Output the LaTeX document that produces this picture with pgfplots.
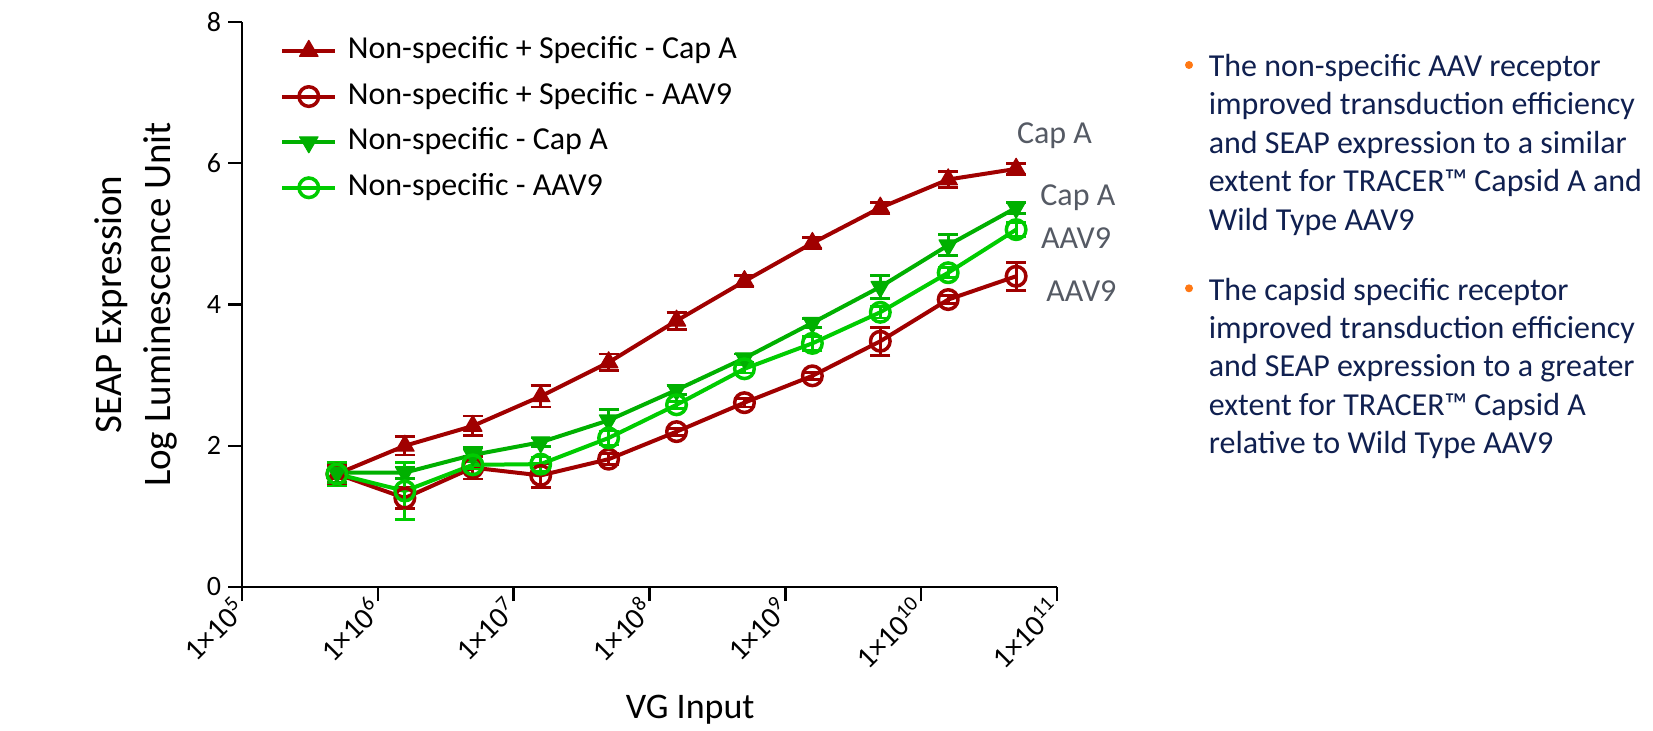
\documentclass[border=0pt]{standalone}
\usepackage{fontspec}
\setmainfont{Carlito}
\usepackage{pgfplots}
\pgfplotsset{compat=1.18}
\usepackage{pgfplotstable}
\definecolor{dred}{RGB}{160,0,0}
\definecolor{tgreen}{RGB}{0,176,0}
\definecolor{cgreen}{RGB}{0,204,0}
\definecolor{anngray}{RGB}{85,90,100}
\definecolor{navy}{RGB}{16,32,80}
\definecolor{borange}{RGB}{255,120,20}

\pgfplotstableread{
x y e
5e5 1.60 0.12
1.581e6 2.00 0.13
5e6 2.28 0.14
1.581e7 2.70 0.15
5e7 3.18 0.12
1.581e8 3.77 0.12
5e8 4.33 0.08
1.581e9 4.87 0.08
5e9 5.37 0.08
1.581e10 5.77 0.11
5e10 5.92 0.08
}\redtri
\pgfplotstableread{
x y e
5e5 1.60 0.14
1.581e6 1.26 0.15
5e6 1.69 0.16
1.581e7 1.58 0.17
5e7 1.81 0.08
1.581e8 2.20 0.05
5e8 2.61 0.06
1.581e9 2.99 0.05
5e9 3.48 0.20
1.581e10 4.07 0.06
5e10 4.40 0.20
}\redcirc
\pgfplotstableread{
x y e
5e5 1.62 0.14
1.581e6 1.62 0.08
5e6 1.87 0.10
1.581e7 2.05 0.06
5e7 2.36 0.15
1.581e8 2.79 0.06
5e8 3.24 0.06
1.581e9 3.74 0.06
5e9 4.25 0.16
1.581e10 4.84 0.15
5e10 5.37 0.08
}\greentri
\pgfplotstableread{
x y e
5e5 1.60 0.17
1.581e6 1.36 0.40
5e6 1.73 0.06
1.581e7 1.74 0.10
5e7 2.11 0.10
1.581e8 2.58 0.05
5e8 3.09 0.06
1.581e9 3.45 0.10
5e9 3.89 0.08
1.581e10 4.45 0.07
5e10 5.06 0.10
}\greencirc

\begin{document}
\begin{tikzpicture}
\useasboundingbox (0,0) rectangle (826.5pt,365pt);
\begin{axis}[
  at={(121pt,71.5pt)}, anchor=south west,
  width=407.5pt, height=282.5pt, scale only axis,
  xmode=log, xmin=1e5, xmax=1e11, ymin=0, ymax=8,
  axis lines*=left,
  axis line style={line width=1.2pt},
  tick style={line width=1.2pt, black},
  tick align=outside,
  major tick length=7pt,
  minor tick num=0,
  xtick={1e5,1e6,1e7,1e8,1e9,1e10,1e11},
  xminorticks=false,
  xticklabels={1×10\textsuperscript{5},1×10\textsuperscript{6},1×10\textsuperscript{7},1×10\textsuperscript{8},1×10\textsuperscript{9},1×10\textsuperscript{10},1×10\textsuperscript{11}},
  xticklabel style={rotate=45, anchor=east, font=\fontsize{15}{17}\selectfont, inner sep=1.5pt},
  ytick={0,2,4,6,8},
  yticklabel style={font=\fontsize{14}{16}\selectfont},
  /pgf/number format/assume math mode=true,
  xlabel={VG Input},
  xlabel style={at={(axis description cs:0.55,-0.232)}, anchor=base, inner sep=0pt, font=\fontsize{18}{21}\selectfont},
  ylabel={SEAP Expression\\Log Luminescence Unit},
  every axis y label/.style={at={(axis description cs:-0.1303,0.5)}, rotate=90, anchor=center, align=center, font=\fontsize{19.5}{24.5}\selectfont},
  clip=false,
  legend cell align=left,
  legend image code/.code={\draw[mark repeat=2,mark phase=2,#1] plot coordinates {(0pt,0pt) (13.25pt,0pt) (26.5pt,0pt)};},
  legend style={at={(0.0465,0.984)}, anchor=north west, draw=none, fill=none, inner sep=0pt, row sep=3.3pt, column sep=3.3pt, font=\fontsize{16}{18}\selectfont, nodes={text height=11.5pt, text depth=4pt}},
  error bars/error bar style={line width=1.4pt},
]
\addplot[dred, line width=2pt, line join=round, mark=triangle*, mark size=5.3pt, mark options={line width=0.6pt, fill=dred},
  error bars/.cd, y dir=both, y explicit, error mark options={rotate=90, mark size=5pt, line width=1.4pt, dred}]
  table[x=x,y=y,y error=e]{\redtri};
\addlegendentry{Non-specific + Specific - Cap A}
\addplot[dred, line width=2pt, line join=round, mark=o, mark size=4.9pt, mark options={line width=1.75pt},
  error bars/.cd, y dir=both, y explicit, error mark options={rotate=90, mark size=5pt, line width=1.4pt, dred}]
  table[x=x,y=y,y error=e]{\redcirc};
\addlegendentry{Non-specific + Specific - AAV9}
\addplot[tgreen, line width=2pt, line join=round, mark=triangle*, mark size=5.3pt, mark options={line width=0.6pt, fill=tgreen, rotate=180},
  error bars/.cd, y dir=both, y explicit, error mark options={rotate=90, mark size=5pt, line width=1.4pt, tgreen}]
  table[x=x,y=y,y error=e]{\greentri};
\addlegendentry{Non-specific - Cap A}
\addplot[cgreen, line width=2pt, line join=round, mark=o, mark size=4.9pt, mark options={line width=1.75pt},
  error bars/.cd, y dir=both, y explicit, error mark options={rotate=90, mark size=5pt, line width=1.4pt, cgreen}]
  table[x=x,y=y,y error=e]{\greencirc};
\addlegendentry{Non-specific - AAV9}
\end{axis}
% annotations
\begin{scope}[every node/.style={anchor=base west, inner sep=0pt, text=anngray, font=\fontsize{16}{18}\selectfont}]
\node at (508.3pt,293.5pt) {Cap A};
\node at (520pt,262.2pt) {Cap A};
\node at (520.3pt,240.6pt) {AAV9};
\node at (523pt,214.25pt) {AAV9};
\end{scope}
% bullet text
\begin{scope}[every node/.style={anchor=base west, inner sep=0pt, text=navy, font=\fontsize{16}{19}\selectfont}]
\fill[borange] (594.5pt,332.5pt) circle (2pt);
\node at (604.2pt,326.65pt) {The non-specific AAV receptor};
\node at (604.2pt,307.5pt) {improved transduction efficiency};
\node at (604.2pt,288.35pt) {and SEAP expression to a similar};
\node at (604.2pt,269.15pt) {extent for TRACER™ Capsid A and};
\node at (604.2pt,250pt) {Wild Type AAV9};
\fill[borange] (594.5pt,220.85pt) circle (2pt);
\node at (604.2pt,215pt) {The capsid specific receptor};
\node at (604.2pt,195.85pt) {improved transduction efficiency};
\node at (604.2pt,176.65pt) {and SEAP expression to a greater};
\node at (604.2pt,157.5pt) {extent for TRACER™ Capsid A};
\node at (604.2pt,138.35pt) {relative to Wild Type AAV9};
\end{scope}
\end{tikzpicture}
\end{document}
